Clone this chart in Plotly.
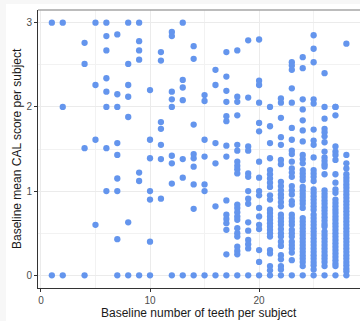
import plotly.graph_objects as go

# Baseline mean CAL score per subject, grouped by baseline number of teeth
cal_t01 = [3.0, 0.0]
cal_t02 = [3.0, 2.0, 0.0]
cal_t04 = [2.76, 2.51, 1.51, 0.0]
cal_t05 = [3.0, 2.26, 1.61, 0.60]
cal_t06 = [3.0, 2.84, 2.67, 2.34, 2.18, 2.0, 1.51, 1.0]
cal_t07 = [2.86, 2.15, 2.0, 1.57, 1.43, 1.15, 1.0, 0.43, 0.0]
cal_t08 = [3.0, 2.51, 2.26, 2.12, 1.88, 0.63, 0.0]
cal_t09 = [3.0, 2.78, 2.67, 2.56, 1.22, 1.12, 0.0]
cal_t10 = [2.20, 1.61, 1.39, 1.0, 0.90, 0.40, 0.0]
cal_t11 = [2.65, 2.55, 1.82, 1.74, 1.55, 1.38, 0.91]
cal_t12 = [2.89, 2.84, 2.18, 2.09, 2.0, 1.42, 1.33, 1.09, 0.0]
cal_t13 = [3.0, 2.32, 2.23, 2.08, 1.38, 1.16, 0.0]
cal_t14 = [2.72, 2.57, 1.79, 1.44, 1.39, 1.29, 1.08, 0.79, 0.0]
cal_t15 = [2.14, 2.07, 1.61, 1.41, 1.08, 1.0, 0.0]
cal_t16 = [2.44, 2.26, 1.57, 1.33, 0.82, 0.0]
cal_t17 = [2.65, 2.36, 2.19, 2.06, 1.89, 1.83, 1.54, 1.41, 0.89, 0.72,
           0.67, 0.62, 0.54, 0.25, 0.0]
cal_t18 = [2.67, 2.12, 2.06, 1.90, 1.55, 1.48, 1.35, 1.30, 1.26, 1.21,
           0.84, 0.80, 0.75, 0.70, 0.66, 0.56, 0.50, 0.46, 0.34, 0.29,
           0.25, 0.0]
cal_t19 = [2.79, 2.11, 1.53, 1.48, 1.21, 1.17, 1.0, 0.91, 0.85, 0.63,
           0.53, 0.42, 0.37, 0.32, 0.0]
cal_t20 = [2.80, 2.31, 2.26, 2.05, 1.81, 1.71, 1.35, 1.16, 1.0, 0.95,
           0.80, 0.70, 0.60, 0.55, 0.30, 0.16, 0.0]
cal_t21 = [2.0, 1.77, 1.57, 1.39, 1.25, 1.20, 1.15, 1.10, 1.05, 0.95,
           0.90, 0.78, 0.74, 0.70, 0.66, 0.62, 0.58, 0.54, 0.50, 0.46,
           0.30, 0.26, 0.11, 0.06, 0.0]
cal_t22 = [2.10, 2.05, 1.87, 1.64, 1.55, 1.37, 1.32, 1.11, 1.06, 1.01,
           0.96, 0.92, 0.87, 0.82, 0.72, 0.68, 0.64, 0.60, 0.55, 0.50,
           0.46, 0.40, 0.35, 0.24, 0.19, 0.11, 0.07, 0.0]
cal_t23 = [2.53, 2.49, 2.44, 2.22, 2.05, 1.75, 1.61, 1.48, 1.44, 1.35,
           1.27, 1.22, 1.17, 1.06, 1.01, 0.96, 0.88, 0.84, 0.72, 0.68,
           0.64, 0.60, 0.54, 0.50, 0.46, 0.40, 0.36, 0.32, 0.27, 0.18, 0.0]
cal_t24 = [2.59, 2.46, 2.09, 1.97, 1.84, 1.72, 1.59, 1.43, 1.38, 1.33,
           1.25, 1.21, 1.17, 1.13, 1.05, 1.01, 0.97, 0.93, 0.89, 0.85,
           0.80, 0.68, 0.64, 0.60, 0.56, 0.52, 0.48, 0.44, 0.40, 0.36,
           0.32, 0.28, 0.24, 0.20, 0.16, 0.11, 0.0]
cal_t25 = [2.85, 2.69, 2.53, 2.09, 2.04, 1.73, 1.60, 1.55, 1.40, 1.25,
           1.21, 1.17, 1.12, 1.02, 0.98, 0.94, 0.90, 0.86, 0.82, 0.78,
           0.72, 0.68, 0.64, 0.60, 0.56, 0.52, 0.48, 0.44, 0.40, 0.36,
           0.32, 0.28, 0.24, 0.20, 0.16, 0.12, 0.07, 0.0]
cal_t26 = [2.40, 2.0, 1.86, 1.74, 1.70, 1.65, 1.58, 1.47, 1.40, 1.36,
           1.32, 1.29, 1.20, 1.01, 0.97, 0.93, 0.89, 0.85, 0.81, 0.77,
           0.73, 0.69, 0.65, 0.61, 0.58, 0.52, 0.48, 0.44, 0.40, 0.36,
           0.32, 0.28, 0.24, 0.20, 0.16, 0.11, 0.0]
cal_t27 = [2.0, 2.0, 1.90, 1.53, 1.47, 1.43, 1.37, 1.20, 1.10, 1.02,
           0.98, 0.90, 0.86, 0.82, 0.78, 0.74, 0.70, 0.66, 0.62, 0.58,
           0.54, 0.50, 0.46, 0.42, 0.38, 0.34, 0.30, 0.26, 0.22, 0.18,
           0.14, 0.11, 0.0]
cal_t28 = [2.75, 1.43, 1.33, 1.27, 1.20, 1.16, 1.12, 1.08, 1.04, 1.0,
           0.96, 0.92, 0.88, 0.84, 0.80, 0.76, 0.72, 0.68, 0.64, 0.60,
           0.56, 0.52, 0.48, 0.44, 0.40, 0.36, 0.32, 0.28, 0.24, 0.20,
           0.16, 0.12, 0.08, 0.05, 0.0]

teeth_counts = [1, 2, 4, 5, 6, 7, 8, 9, 10, 11, 12, 13, 14, 15, 16, 17, 18,
                19, 20, 21, 22, 23, 24, 25, 26, 27, 28]
cal_columns = [cal_t01, cal_t02, cal_t04, cal_t05, cal_t06, cal_t07, cal_t08,
               cal_t09, cal_t10, cal_t11, cal_t12, cal_t13, cal_t14, cal_t15,
               cal_t16, cal_t17, cal_t18, cal_t19, cal_t20, cal_t21, cal_t22,
               cal_t23, cal_t24, cal_t25, cal_t26, cal_t27, cal_t28]

x_tick_vals = [0, 10, 20]
y_tick_vals = [0, 1, 2, 3]
x_title = "Baseline number of teeth per subject"
y_title = "Baseline mean CAL score per subject"

xs, ys = [], []
for t, col in zip(teeth_counts, cal_columns):
    for v in col:
        xs.append(t)
        ys.append(v)

fig = go.Figure()
fig.add_trace(go.Scatter(
    x=xs, y=ys, mode="markers",
    marker=dict(size=6.3, color="#6495ED", line=dict(width=0)),
    hoverinfo="x+y", showlegend=False,
))

fam = "Liberation Sans, Arial, sans-serif"
axis_font = dict(family=fam, size=10, color="#4d4d4d")
title_font = dict(family=fam, size=12, color="#1a1a1a")

fig.update_layout(
    width=360, height=321,
    margin=dict(l=38, r=0, t=10, b=33, autoexpand=False),
    paper_bgcolor="white", plot_bgcolor="white",
    xaxis=dict(
        range=[-0.27, 29.25], tickvals=x_tick_vals, ticktext=[str(v) for v in x_tick_vals],
        showline=True, linecolor="#333333", linewidth=1,
        ticks="outside", ticklen=3, tickwidth=1, tickcolor="#333333",
        showgrid=True, gridcolor="#ebebeb", gridwidth=1,
        minor=dict(tickvals=[5, 15, 25], showgrid=True, gridcolor="#f2f2f2", gridwidth=1, ticks=""),
        zeroline=False, tickfont=axis_font,
    ),
    yaxis=dict(
        range=[-0.15, 3.15], tickvals=y_tick_vals, ticktext=[str(v) for v in y_tick_vals],
        showline=True, linecolor="#333333", linewidth=1,
        ticks="outside", ticklen=3, tickwidth=1, tickcolor="#333333",
        showgrid=True, gridcolor="#ebebeb", gridwidth=1,
        minor=dict(tickvals=[0.5, 1.5, 2.5], showgrid=True, gridcolor="#f2f2f2", gridwidth=1, ticks=""),
        zeroline=False, tickfont=axis_font,
    ),
    annotations=[
        dict(text=x_title, xref="paper", yref="paper", x=0.5, y=-0.0888,
             xanchor="center", yanchor="middle", showarrow=False, font=title_font),
        dict(text=y_title, xref="paper", yref="paper", x=-0.0652, y=0.5,
             xanchor="center", yanchor="middle", textangle=-90, showarrow=False, font=title_font),
    ],
    shapes=[
        dict(type="line", xref="paper", yref="paper", x0=0, x1=1, y0=1, y1=1,
             line=dict(color="#a6a6a6", width=1.5)),
        dict(type="rect", xref="paper", yref="paper", x0=-0.2, x1=-0.0994, y0=-0.2, y1=1.1,
             fillcolor="#f7f7f7", line=dict(width=0), layer="below"),
        dict(type="rect", xref="paper", yref="paper", x0=-0.2, x1=1.1, y0=1.0212, y1=1.1,
             fillcolor="#f7f7f7", line=dict(width=0), layer="below"),
    ],
)

fig.write_html(
    "out.html",
    config={"displayModeBar": False},
    post_script="document.body.style.margin='0';document.body.style.overflow='hidden';",
)
